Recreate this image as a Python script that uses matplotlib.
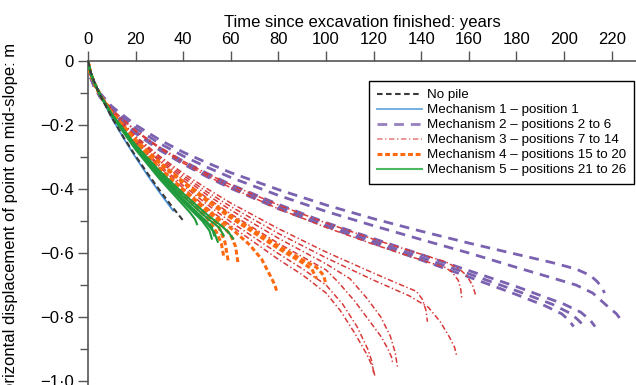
import matplotlib
matplotlib.use("Agg")
import matplotlib.pyplot as plt
from matplotlib.ticker import MultipleLocator, FixedLocator
from matplotlib.lines import Line2D

plt.rcParams['font.family'] = ['Liberation Sans', 'DejaVu Sans']
plt.rcParams['lines.scale_dashes'] = False

# ---------------- data (time in years, displacement in m) ----------------
nopile_t = [0, 1, 2.5, 5, 10, 15, 20, 25, 30, 35, 40]
nopile_d = [0, -0.031, -0.062, -0.105, -0.177, -0.239, -0.297, -0.351, -0.403, -0.452, -0.499]

mech1_t = [0, 1, 2.5, 5, 10, 15, 20, 25, 30, 33, 35.8]
mech1_d = [0, -0.031, -0.062, -0.105, -0.178, -0.242, -0.301, -0.357, -0.41, -0.44, -0.468]

mech2_t = [
    [0, 1, 2.5, 5, 10, 20, 30, 40, 50, 60, 80, 100, 120, 140, 160, 180, 195, 205, 211, 214, 216, 217],
    [0, 1, 2.5, 5, 10, 20, 30, 40, 50, 60, 80, 100, 120, 140, 160, 180, 196, 205, 212, 218, 222, 224],
    [0, 1, 2.5, 5, 10, 20, 30, 40, 50, 60, 80, 100, 120, 140, 160, 180, 192, 199, 202, 204],
    [0, 1, 2.5, 5, 10, 20, 30, 40, 50, 60, 80, 100, 120, 140, 160, 180, 195, 203, 206, 208],
    [0, 1, 2.5, 5, 10, 20, 30, 40, 50, 60, 80, 100, 120, 140, 160, 180, 200, 207, 211, 213],
]
mech2_d = [
    [0, -0.045, -0.071, -0.10, -0.142, -0.20, -0.246, -0.285, -0.318, -0.349, -0.402, -0.45, -0.493, -0.532, -0.569, -0.604, -0.63, -0.65, -0.67, -0.69, -0.71, -0.725],
    [0, -0.047, -0.074, -0.105, -0.149, -0.21, -0.257, -0.297, -0.332, -0.364, -0.42, -0.47, -0.515, -0.558, -0.60, -0.645, -0.68, -0.70, -0.725, -0.765, -0.79, -0.81],
    [0, -0.05, -0.079, -0.112, -0.16, -0.226, -0.278, -0.322, -0.362, -0.398, -0.462, -0.517, -0.57, -0.622, -0.675, -0.73, -0.765, -0.79, -0.81, -0.83],
    [0, -0.05, -0.078, -0.11, -0.158, -0.224, -0.275, -0.318, -0.357, -0.393, -0.455, -0.512, -0.563, -0.614, -0.665, -0.718, -0.76, -0.79, -0.81, -0.825],
    [0, -0.049, -0.077, -0.109, -0.156, -0.221, -0.271, -0.313, -0.351, -0.386, -0.448, -0.505, -0.555, -0.605, -0.655, -0.705, -0.76, -0.785, -0.81, -0.83],
]

mech3_t = [
    [0, 1, 2.5, 5, 10, 20, 30, 40, 50, 60, 80, 100, 120, 140, 150, 156, 159, 161.5, 163],
    [0, 1, 2.5, 5, 10, 20, 30, 40, 50, 60, 80, 100, 120, 140, 150, 153, 155.5, 156.5, 157],
    [0, 1, 2.5, 5, 10, 20, 30, 40, 50, 60, 80, 100, 120, 130, 138, 140.5, 142, 142.6],
    [0, 1, 2.5, 5, 10, 20, 30, 40, 50, 60, 80, 100, 120, 135, 143, 148, 152, 154, 155],
    [0, 1, 2.5, 5, 10, 20, 30, 40, 50, 60, 80, 100, 105, 112, 118, 123, 126, 127.5, 128],
    [0, 1, 2.5, 5, 10, 20, 30, 40, 50, 60, 80, 100, 110, 117, 123, 127, 129, 130],
    [0, 1, 2.5, 5, 10, 20, 30, 40, 50, 60, 80, 90, 100, 106, 112, 117, 119.5, 120.7],
    [0, 1, 2.5, 5, 10, 20, 30, 40, 50, 60, 80, 90, 100, 107, 113, 117.5, 119.3, 120],
]
mech3_d = [
    [0, -0.045, -0.073, -0.105, -0.151, -0.217, -0.269, -0.313, -0.352, -0.387, -0.45, -0.506, -0.557, -0.604, -0.627, -0.65, -0.67, -0.70, -0.735],
    [0, -0.0445, -0.0725, -0.105, -0.152, -0.22, -0.273, -0.319, -0.359, -0.396, -0.462, -0.52, -0.573, -0.622, -0.645, -0.66, -0.685, -0.71, -0.74],
    [0, -0.041, -0.07, -0.105, -0.157, -0.235, -0.297, -0.351, -0.399, -0.444, -0.524, -0.597, -0.663, -0.695, -0.72, -0.745, -0.78, -0.815],
    [0, -0.041, -0.07, -0.105, -0.158, -0.238, -0.302, -0.358, -0.409, -0.455, -0.539, -0.615, -0.685, -0.734, -0.77, -0.815, -0.865, -0.895, -0.925],
    [0, -0.039, -0.069, -0.105, -0.16, -0.245, -0.313, -0.373, -0.428, -0.478, -0.57, -0.653, -0.69, -0.75, -0.81, -0.86, -0.90, -0.925, -0.945],
    [0, -0.04, -0.069, -0.105, -0.159, -0.241, -0.308, -0.365, -0.418, -0.466, -0.554, -0.634, -0.68, -0.74, -0.80, -0.86, -0.91, -0.955],
    [0, -0.0375, -0.067, -0.105, -0.164, -0.255, -0.331, -0.397, -0.459, -0.515, -0.62, -0.668, -0.725, -0.78, -0.85, -0.915, -0.955, -0.99],
    [0, -0.038, -0.068, -0.105, -0.163, -0.251, -0.325, -0.389, -0.448, -0.503, -0.602, -0.649, -0.70, -0.76, -0.83, -0.90, -0.94, -0.975],
]

mech4_t = [
    [0, 1, 2.5, 5, 10, 20, 30, 40, 45, 50, 54, 56, 57],
    [0, 1, 2.5, 5, 10, 20, 30, 40, 50, 55, 57.5, 59],
    [0, 1, 2.5, 5, 10, 20, 30, 40, 50, 55, 60, 62, 63],
    [0, 1, 2.5, 5, 10, 20, 30, 40, 50, 60, 68, 73, 76.5, 78.5, 79.5],
    [0, 1, 2.5, 5, 10, 20, 30, 40, 50, 60, 80, 90, 94, 96],
    [0, 1, 2.5, 5, 10, 20, 30, 40, 50, 60, 80, 90, 96, 99, 100],
]
mech4_d = [
    [0, -0.036, -0.066, -0.105, -0.167, -0.265, -0.347, -0.42, -0.455, -0.49, -0.535, -0.57, -0.61],
    [0, -0.036, -0.066, -0.105, -0.166, -0.262, -0.343, -0.414, -0.48, -0.52, -0.565, -0.63],
    [0, -0.037, -0.067, -0.105, -0.165, -0.259, -0.337, -0.405, -0.469, -0.50, -0.545, -0.58, -0.63],
    [0, -0.037, -0.067, -0.105, -0.164, -0.257, -0.334, -0.401, -0.464, -0.522, -0.575, -0.62, -0.67, -0.70, -0.725],
    [0, -0.039, -0.068, -0.105, -0.161, -0.248, -0.319, -0.381, -0.438, -0.49, -0.586, -0.63, -0.65, -0.68],
    [0, -0.039, -0.069, -0.105, -0.161, -0.246, -0.316, -0.377, -0.433, -0.484, -0.578, -0.621, -0.645, -0.67, -0.70],
]

mech5_t = [
    [0, 1, 2.5, 5, 10, 20, 30, 40, 43, 45, 45.8],
    [0, 1, 2.5, 5, 10, 20, 30, 40, 48, 51, 52],
    [0, 1, 2.5, 5, 10, 20, 30, 40, 50, 53, 54.5],
    [0, 1, 2.5, 5, 10, 20, 30, 40, 50, 52, 53],
    [0, 1, 2.5, 5, 10, 20, 30, 40, 50, 55, 57],
    [0, 1, 2.5, 5, 10, 20, 30, 40, 50, 56, 59, 61],
]
mech5_d = [
    [0, -0.034, -0.065, -0.105, -0.171, -0.277, -0.368, -0.45, -0.475, -0.495, -0.51],
    [0, -0.035, -0.065, -0.105, -0.169, -0.273, -0.361, -0.441, -0.50, -0.53, -0.555],
    [0, -0.035, -0.065, -0.105, -0.169, -0.271, -0.358, -0.436, -0.509, -0.535, -0.565],
    [0, -0.035, -0.066, -0.105, -0.168, -0.27, -0.355, -0.432, -0.503, -0.52, -0.545],
    [0, -0.036, -0.066, -0.105, -0.167, -0.266, -0.349, -0.423, -0.491, -0.52, -0.545],
    [0, -0.036, -0.066, -0.105, -0.166, -0.262, -0.343, -0.414, -0.48, -0.515, -0.535, -0.555],
]

labels = ["No pile",
          "Mechanism 1 \u2013 position 1",
          "Mechanism 2 \u2013 positions 2 to 6",
          "Mechanism 3 \u2013 positions 7 to 14",
          "Mechanism 4 \u2013 positions 15 to 20",
          "Mechanism 5 \u2013 positions 21 to 26"]

x_ticks = [0, 20, 40, 60, 80, 100, 120, 140, 160, 180, 200, 220]
y_ticks = [0, -0.2, -0.4, -0.6, -0.8, -1.0]
y_ticklabels = ["0", "\u22120\u00b72", "\u22120\u00b74", "\u22120\u00b76", "\u22120\u00b78", "\u22121\u00b70"]

# ---------------- styles ----------------
c_black = '#3a3a3a'
c_blue = '#4a90d9'
c_purple = '#7b62b0'
c_red = '#d83a3a'
c_orange = '#ff6a10'
c_green = '#1f9a3c'

st_black = dict(color=c_black, lw=1.5, linestyle=(0, (4, 2.5)), zorder=7)
st_blue = dict(color=c_blue, lw=1.3, linestyle='-', zorder=5)
st_purple = dict(color=c_purple, lw=2.0, linestyle=(0, (7, 5)), zorder=2)
st_red = dict(color=c_red, lw=1.1, linestyle=(0, (4, 1.8, 1, 1.8)), zorder=3)
st_orange = dict(color=c_orange, lw=2.2, linestyle=(0, (3.5, 2)), zorder=4)
st_green = dict(color=c_green, lw=1.5, linestyle='-', zorder=6)

fig = plt.figure(figsize=(6.36, 3.85), dpi=100)
ax = fig.add_axes([88 / 636, 0.0, 1 - 88 / 636, 1 - 61 / 385])

for t, d in zip(mech2_t, mech2_d):
    ax.plot(t, d, **st_purple)
for t, d in zip(mech3_t, mech3_d):
    ax.plot(t, d, **st_red)
for t, d in zip(mech4_t, mech4_d):
    ax.plot(t, d, **st_orange)
ax.plot(mech1_t, mech1_d, **st_blue)
for t, d in zip(mech5_t, mech5_d):
    ax.plot(t, d, **st_green)
ax.plot(nopile_t, nopile_d, **st_black)

handles = [Line2D([], [], **st_black),
           Line2D([], [], **{**st_blue, 'color': '#6aaae0'}),
           Line2D([], [], **{**st_purple, 'color': '#9680c0'}),
           Line2D([], [], **{**st_red, 'color': '#e87a7a'}),
           Line2D([], [], **st_orange),
           Line2D([], [], **{**st_green, 'color': '#4cb860'})]
leg = ax.legend(handles, labels, loc='upper right',
                bbox_to_anchor=(634 / 636, 1 - 81 / 385), bbox_transform=fig.transFigure,
                borderaxespad=0, fontsize=9.6, handlelength=3.4, handletextpad=0.35,
                labelspacing=0.2, borderpad=0.6, fancybox=False, framealpha=1,
                edgecolor='black')
leg.get_frame().set_linewidth(1.0)

ax.set_xlim(0, 548 / 2.3805)
ax.set_ylim(-(385 - 61) / 320, 0)

spine_col = '#555555'
for s in ['right', 'bottom']:
    ax.spines[s].set_visible(False)
for s in ['top', 'left']:
    ax.spines[s].set_color(spine_col)
    ax.spines[s].set_linewidth(1.2)

ax.xaxis.tick_top()
ax.xaxis.set_label_position('top')
ax.xaxis.set_major_locator(FixedLocator(x_ticks))
ax.set_xticklabels([str(v) for v in x_ticks])
ax.yaxis.set_major_locator(FixedLocator(y_ticks))
ax.set_yticklabels(y_ticklabels)
ax.yaxis.set_minor_locator(MultipleLocator(0.1))
ax.tick_params(axis='both', which='major', labelsize=12, color=spine_col, width=1.0, length=7, pad=3)
ax.tick_params(axis='y', which='minor', color=spine_col, width=1.0, length=6)
ax.tick_params(axis='x', which='minor', length=0)

ax.set_xlabel("Time since excavation finished: years", fontsize=12, labelpad=4)
ax.set_ylabel("Horizontal displacement of point on mid-slope: m", fontsize=12)
ax.yaxis.set_label_coords((18 - 88) / 548, 0.5)

fig.savefig("out.png", dpi=100)
